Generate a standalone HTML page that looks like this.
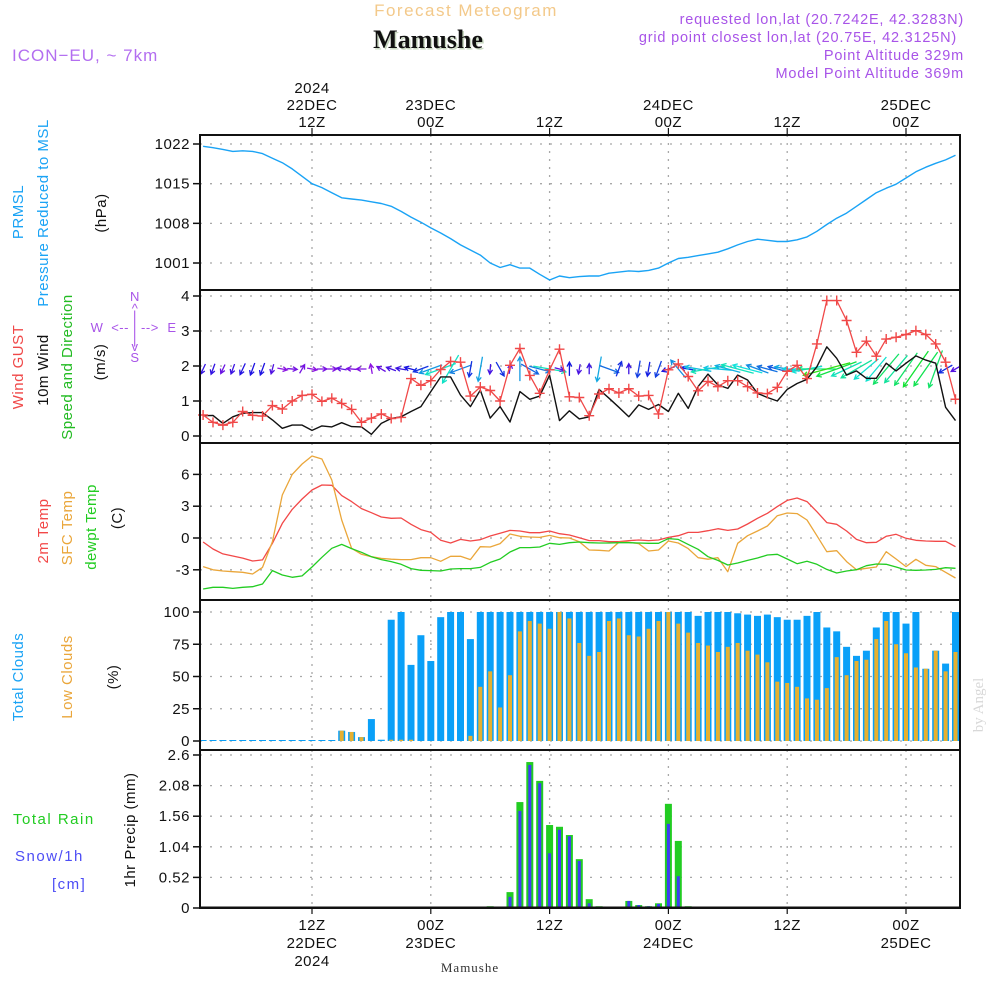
<!DOCTYPE html>
<html><head><meta charset="utf-8"><title>Mamushe Meteogram</title>
<style>
html,body{margin:0;padding:0;background:#fff;}
svg{display:block;font-family:"Liberation Sans",sans-serif;}
.tk{font-size:15px;fill:#111;letter-spacing:0.5px}
</style></head>
<body>
<svg id="chart" width="1000" height="1000" viewBox="0 0 1000 1000" xmlns="http://www.w3.org/2000/svg">
<rect width="1000" height="1000" fill="#fff"/>
<text x="466" y="16" text-anchor="middle" font-size="17" fill="#f3c98a" letter-spacing="1.5">Forecast Meteogram</text>
<text x="428" y="48" text-anchor="middle" font-size="26" font-weight="bold" font-family="Liberation Serif, serif" fill="#c8d8c0" dx="1.5" dy="1.5">Mamushe</text>
<text x="428" y="48" text-anchor="middle" font-size="26" font-weight="bold" font-family="Liberation Serif, serif" fill="#111">Mamushe</text>
<text x="12" y="61" font-size="17" fill="#b36ef0" letter-spacing="1">ICON−EU, ~ 7km</text>
<g font-size="14.5" fill="#a854e8" text-anchor="end" letter-spacing="0.8">
<text x="964" y="24">requested lon,lat (20.7242E, 42.3283N)</text>
<text x="957" y="42">grid point closest lon,lat (20.75E, 42.3125N)</text>
<text x="964" y="60">Point Altitude 329m</text>
<text x="964" y="78">Model Point Altitude 369m</text>
</g>
<g id="grids"></g>
<g id="marks"></g>
<g id="frames"></g>
<g id="labels"></g>
</svg>
<script>
// ---- data (hour 1..77 from 00Z 22DEC) ----
const hours = Array.from({length:77},(_,i)=>i+1);
const pressure = [1021.6,1021.35,1021.05,1020.7,1020.8,1020.7,1020.3,1019.5,1018.7,1017.6,1016.3,
1015.0,1014.3,1013.4,1012.5,1012.3,1012.1,1011.8,1011.5,1011.0,1010.1,
1009.1,1008.2,1007.2,1006.3,1005.3,1004.2,1003.3,1002.4,1001.0,1000.2,
1000.7,1000.1,1000.1,999.0,998.0,998.7,998.4,998.6,998.7,998.7,
999.2,999.4,999.6,999.5,999.7,1000.1,1001.0,1001.8,1002.0,1002.3,
1002.6,1002.9,1003.5,1004.2,1004.8,1005.2,1005.0,1004.8,1004.8,1005.1,
1005.6,1006.6,1007.8,1008.9,1009.8,1011.0,1012.2,1013.4,1014.2,1014.9,
1016.0,1017.1,1017.9,1018.6,1019.2,1020.0];
const gust = [0.6,0.39,0.31,0.39,0.7,0.59,0.57,0.87,0.77,1.0,
1.16,1.19,0.99,1.08,0.93,0.76,0.39,0.51,0.63,0.5,
0.53,1.64,1.45,1.58,1.9,2.13,2.11,1.14,1.4,1.3,
1.0,2.02,2.5,1.73,1.22,1.89,2.48,1.12,
1.1,0.58,1.2,1.35,1.23,1.35,1.14,1.16,0.63,1.89,
2.06,1.7,1.29,1.56,1.41,1.58,1.58,1.41,1.23,1.21,
1.39,1.85,2.02,1.64,2.63,3.87,3.87,3.3,2.39,2.71,
2.28,2.77,2.82,2.9,3.01,2.9,2.63,2.11,1.05];
const windSpeed = [0.58,0.59,0.36,0.55,0.65,0.67,0.67,0.46,0.22,0.31,
0.31,0.16,0.29,0.26,0.38,0.27,0.26,0.05,0.36,0.5,
0.55,0.7,0.84,1.27,1.69,1.69,1.17,0.84,1.31,0.51,
0.84,0.4,1.27,1.05,1.14,1.74,0.44,0.72,
0.49,0.55,1.33,1.08,0.82,0.55,0.89,0.76,0.9,0.7,
1.22,0.79,1.41,1.77,1.46,1.36,1.74,1.6,1.22,1.1,
1.0,1.33,1.5,1.62,1.98,2.55,2.22,1.74,1.86,1.65,
1.65,2.08,1.86,2.08,2.29,2.17,2.08,0.82,0.44];
const windDir = [-115,-110,-115,-110,-115,-110,-110,-105,-10,-5,60,-10,0,0,
170,175,180,100,150,160,170,165,200,200,200,-120,200,-100,-100,-95,-60,80,90,-30,-15,-10,-15,90,-100,
90,-100,-20,70,90,-100,-100,-110,200,130,170,170,190,175,165,165,165,160,165,165,170,180,190,180,195,
200,205,210,220,230,230,230,235,235,235,-110,-150,-150];
const temp2m = [-0.38,-1.04,-1.5,-1.7,-1.9,-2.17,-2.07,-0.5,1.38,2.7,
3.68,4.53,5.0,4.97,4.0,3.43,2.77,2.39,1.98,1.86,
1.89,1.29,0.79,0.53,-0.22,-0.47,-0.13,-0.28,-0.16,0.19,
0.44,0.72,0.66,0.5,0.5,0.66,0.41,0.28,
0.03,-0.25,-0.25,-0.35,-0.35,-0.25,-0.19,-0.25,-0.19,0.06,
0.22,0.53,0.53,0.69,0.88,0.72,0.85,1.32,1.86,2.33,
2.96,3.55,3.77,3.43,2.48,1.45,1.29,0.66,-0.13,-0.44,
-0.41,0.16,0.35,-0.03,-0.22,-0.28,-0.31,-0.31,-0.82];
const tempSfc = [-2.7,-3.0,-3.11,-3.18,-3.24,-3.4,-2.77,-0.35,4.06,6.0,
6.98,7.74,7.45,5.47,1.7,-0.97,-1.54,-1.76,-1.92,-2.0,
-2.04,-2.04,-1.86,-1.86,-2.2,-1.73,-1.73,-2.04,-0.82,-0.85,
-0.53,0.38,0.16,0.09,0.06,0.25,0.03,0,
-0.35,-1.13,-1.16,-1.23,-0.41,-0.41,-0.53,-1.23,-1.13,-0.28,
-0.47,-1.0,-1.86,-2.0,-1.86,-3.18,-0.5,0.22,0.66,1.13,
2.1,2.36,2.3,1.7,0.22,-1.29,-1.2,-2.23,-2.99,-2.86,
-2.74,-1.29,-1.98,-2.7,-2.01,-2.58,-2.7,-3.24,-3.77];
const dewpt = [-4.81,-4.65,-4.65,-4.75,-4.65,-4.59,-4.34,-3.08,-3.49,-3.71,
-3.58,-2.74,-1.82,-0.97,-0.6,-1.0,-1.35,-1.76,-2.04,-2.23,
-2.48,-2.89,-3.05,-3.08,-3.11,-2.92,-2.89,-2.89,-2.77,-2.3,
-1.98,-1.32,-0.91,-0.91,-0.85,-0.5,-0.6,-0.44,
-0.38,-0.44,-0.47,-0.47,-0.44,-0.44,-0.47,-0.5,-0.5,-0.06,
-0.13,-0.6,-1.07,-1.76,-2.11,-2.55,-2.36,-2.11,-1.89,-1.6,
-1.54,-1.98,-2.42,-2.2,-2.48,-2.96,-3.3,-3.11,-2.99,-2.61,
-2.45,-2.48,-2.74,-3.02,-3.05,-3.02,-2.96,-2.8,-2.86];
const totalClouds = [0,0,0,0,0,0,0,0,0,0,0,0,0,0,
8,7,3,17,1,94,100,59,82,62,96,100,100,79,
100,100,100,100,100,100,100,100,100,100,100,
100,100,100,100,100,100,100,100,100,100,100,
97,100,100,100,99,98,97,98,96,94,
94,97,100,88,85,73,66,70,88,100,
100,91,100,56,70,60,100];
const lowClouds = [0,0,0,0,0,0,0,0,0,0,0,0,0,0,
8,7,3,0,0,1,1,1,0,0,0,0,0,4,
42,54,26,51,85,93,91,87,100,95,76,
66,69,93,95,82,81,87,93,100,91,84,
76,74,69,73,76,70,67,61,46,45,
42,33,32,41,65,51,62,63,79,93,
75,68,57,56,70,54,69];
const precipHours = [30,32,33,34,35,36,37,38,39,40,41,43,44,45,46,47,48,49,50,51,52];
const totalRain = [0.03,0.27,1.8,2.48,2.16,1.41,1.38,1.24,0.83,0.15,0.03,0,0.12,0.05,0.03,0.08,1.77,1.14,0.03,0.02,0.02];
const snow = [0.01,0.19,1.65,2.43,2.12,0.93,1.33,1.22,0.8,0.08,0.02,0.005,0.12,0.05,0.03,0.07,1.43,0.54,0,0,0];
const pTicks = [1022,1015,1008,1001];
const wTicks = [0,1,2,3,4];
const tTicks = [6,3,0,-3];
const cTicks = [0,25,50,75,100];
const rTicks = [0,0.52,1.04,1.56,2.08,2.6];
const rTickLabels = ["0","0.52","1.04","1.56","2.08","2.6"];
const gridHours = [12,24,36,48,60,72];
const topLabels = [["2024","22DEC","12Z"],["","23DEC","00Z"],["","","12Z"],["","24DEC","00Z"],["","","12Z"],["","25DEC","00Z"]];
const bottomLabels = [["12Z","22DEC","2024"],["00Z","23DEC",""],["12Z","",""],["00Z","24DEC",""],["12Z","",""],["00Z","25DEC",""]];

// ---- axes ----
const X0=200, X1=960;
const xOf = h => 193.2 + 9.9*h;
const yP = v => 144 + (1022 - v)*5.667;
const yW = v => 436 - 35*v;
const yT = v => 538 - 10.6*v;
const yC = v => 741 - 1.29*v;
const yR = v => 908 - 58.85*v;
const panels = [[135,290],[290,443],[443,600],[600,750],[750,908]];

const NS="http://www.w3.org/2000/svg";
function mk(tag, attrs, parent){const e=document.createElementNS(NS,tag);for(const k in attrs)e.setAttribute(k,attrs[k]);parent.appendChild(e);return e;}
const G=document.getElementById('grids'), M=document.getElementById('marks'), F=document.getElementById('frames'), L=document.getElementById('labels');

const defs=mk('defs',{},document.getElementById('chart'));
panels.forEach((p,i)=>{const c=mk('clipPath',{id:'clip'+i},defs);mk('rect',{x:X0,y:p[0],width:X1-X0,height:p[1]-p[0]},c);});

panels.forEach((p,i)=>{
  gridHours.forEach(h=>{
    const l=mk('line',{x1:xOf(h),x2:xOf(h),y1:p[0],y2:p[1],stroke:'#a8a8a8','stroke-dasharray':'2,6','stroke-width':1.3},G);
    
    
  });
});
function hgrid(ticks, yf, labels, name){
  ticks.forEach((t,i)=>{
    const y=yf(t);
    const l=mk('line',{x1:X0,x2:X1,y1:y,y2:y,stroke:'#a8a8a8','stroke-dasharray':'2,8','stroke-width':1.3},G);
    
    
    const tk=mk('line',{x1:X0-7,x2:X0,y1:y,y2:y,stroke:'#111','stroke-width':1.5},F);
    
    
    const tx=mk('text',{x:X0-10,y:y+5,'text-anchor':'end',class:'tk'},L);
    tx.textContent = labels ? labels[i] : String(t);
    
    
  });
}
hgrid(pTicks,yP,null,'pressure');
hgrid(wTicks,yW,null,'wind');
hgrid(tTicks,yT,null,'temp');
hgrid(cTicks,yC,null,'cloud');
hgrid(rTicks,yR,rTickLabels,'precip');

panels.forEach((p,i)=>{
  const r=mk('rect',{x:X0,y:p[0],width:X1-X0,height:p[1]-p[0],fill:'none',stroke:'#111','stroke-width':2},F);
  
  
});
gridHours.forEach((h,i)=>{
  const x=xOf(h);
  mk('line',{x1:x,x2:x,y1:128,y2:135,stroke:'#111','stroke-width':1.2},F);
  mk('line',{x1:x,x2:x,y1:908,y2:914,stroke:'#111','stroke-width':1.2},F);
  topLabels[i].forEach((s,j)=>{ if(!s)return;
    const t=mk('text',{x:x,y:93+j*17,'text-anchor':'middle',class:'tk'},L); t.textContent=s;
    
    
  });
  bottomLabels[i].forEach((s,j)=>{ if(!s)return;
    const t=mk('text',{x:x,y:930+j*18,'text-anchor':'middle',class:'tk'},L); t.textContent=s;
    
    
  });
});

function line(vals, yf, color, clip, name, w){
  const pts=vals.map((v,i)=>xOf(hours[i]).toFixed(1)+','+yf(v).toFixed(1)).join(' ');
  const pl=mk('polyline',{points:pts,fill:'none',stroke:color,'stroke-width':w||1.4,'clip-path':'url(#clip'+clip+')','stroke-linejoin':'round'},M);
  
  
}
line(pressure,yP,'#1aa3f5',0,'pressure-line',1.4);
windDir.forEach((d,i)=>{
  const s=windSpeed[i]; const len=Math.max(10,19*s);
  const a=d*Math.PI/180; const cx=xOf(hours[i]), cy=369;
  const dx=Math.cos(a)*len/2, dy=-Math.sin(a)*len/2;
  const hue=Math.max(75,Math.min(275,290-70*s));
  const col='hsl('+hue+',85%,48%)';
  const x2=cx+dx,y2=cy+dy, x1=cx-dx,y1=cy-dy;
  const hl=5, b1=a+Math.PI-0.5, b2=a+Math.PI+0.5;
  const g=mk('path',{d:`M${x1},${y1}L${x2},${y2}M${x2+Math.cos(b1)*hl},${y2-Math.sin(b1)*hl}L${x2},${y2}L${x2+Math.cos(b2)*hl},${y2-Math.sin(b2)*hl}`,stroke:col,'stroke-width':1.3,fill:'none','clip-path':'url(#clip1)'},M);
  
  
});
line(windSpeed,yW,'#111',1,'wind-speed-line',1.4);
line(gust,yW,'#f04848',1,'wind-gust-line',1.3);
gust.forEach((v,i)=>{
  const x=xOf(hours[i]),y=yW(v);
  const p=mk('path',{d:`M${x-5},${y}H${x+5}M${x},${y-5}V${y+5}`,stroke:'#f04848','stroke-width':1.4},M);
  
  
});
line(temp2m,yT,'#f24848',2,'temp-2m-line',1.3);
line(tempSfc,yT,'#eaa63a',2,'temp-sfc-line',1.3);
line(dewpt,yT,'#22cc22',2,'dewpoint-line',1.3);
totalClouds.forEach((v,i)=>{
  const x=xOf(hours[i]); const y=yC(v); const h=Math.max(1,741-y);
  const r=mk('rect',{x:x-3.5,y:741-h,width:7,height:h,fill:'#0aa0f8'},M);
  
  
});
lowClouds.forEach((v,i)=>{
  const x=xOf(hours[i]); const y=yC(v); const h=Math.max(v>0?1:0,741-y);
  if(h<=0)return;
  const r=mk('rect',{x:x-2,y:741-h,width:4,height:h,fill:'#e6b030'},M);
  
  
});
totalRain.forEach((v,i)=>{
  const x=xOf(precipHours[i]); const h=908-yR(v); if(h<=0.2)return;
  const r=mk('rect',{x:x-3.5,y:908-h,width:7,height:h,fill:'#22cc22'},M);
  
  
});
snow.forEach((v,i)=>{
  const x=xOf(precipHours[i]); const h=908-yR(v); if(h<=0.2)return;
  const r=mk('rect',{x:x-1.5,y:908-h,width:3,height:h,fill:'#3d3df5'},M);
  
  
});
mk('line',{x1:X0,x2:X1,y1:907,y2:907,stroke:'#111','stroke-width':1},F);
</script>
<svg style="position:absolute;left:0;top:0" width="1000" height="1000" xmlns="http://www.w3.org/2000/svg">
<g font-size="15" font-family="Liberation Sans, sans-serif" letter-spacing="0.5">
<text transform="translate(23,212) rotate(-90)" text-anchor="middle" fill="#1aa3f5">PRMSL</text>
<text transform="translate(48,213) rotate(-90)" text-anchor="middle" fill="#1aa3f5">Pressure Reduced to MSL</text>
<text transform="translate(106,213) rotate(-90)" text-anchor="middle" fill="#111">(hPa)</text>
<text transform="translate(23,367) rotate(-90)" text-anchor="middle" fill="#f04848">Wind GUST</text>
<text transform="translate(48,370) rotate(-90)" text-anchor="middle" fill="#111">10m Wind</text>
<text transform="translate(72,367) rotate(-90)" text-anchor="middle" fill="#22bb22">Speed and Direction</text>
<text transform="translate(105,362) rotate(-90)" text-anchor="middle" fill="#111">(m/s)</text>
<g font-size="13" fill="#a854e8" text-anchor="middle">
<text x="135" y="301">N</text><text x="135" y="313">^</text><text x="135" y="320">|</text>
<text x="97" y="332">W</text><text x="135" y="332">&lt;-- | --&gt;</text><text x="172" y="332">E</text>
<text x="135" y="344">|</text><text x="135" y="351">v</text><text x="135" y="362">S</text>
</g>
<text transform="translate(48,531) rotate(-90)" text-anchor="middle" fill="#f24848">2m Temp</text>
<text transform="translate(72,528) rotate(-90)" text-anchor="middle" fill="#eaa63a">SFC Temp</text>
<text transform="translate(96,527) rotate(-90)" text-anchor="middle" fill="#22cc22">dewpt Temp</text>
<text transform="translate(122,518) rotate(-90)" text-anchor="middle" fill="#111">(C)</text>
<text transform="translate(23,677) rotate(-90)" text-anchor="middle" fill="#1aa3f5">Total Clouds</text>
<text transform="translate(72,677) rotate(-90)" text-anchor="middle" fill="#eaa63a">Low Clouds</text>
<text transform="translate(118,677) rotate(-90)" text-anchor="middle" fill="#111">(%)</text>
<text x="13" y="824" fill="#22cc22" letter-spacing="1.5">Total  Rain</text>
<text x="15" y="861" fill="#4d4df5" letter-spacing="1.5">Snow/1h</text>
<text x="52" y="889" fill="#4d4df5" letter-spacing="1.5">[cm]</text>
<text transform="translate(135,830) rotate(-90)" text-anchor="middle" fill="#111">1hr Precip (mm)</text>
</g>
<text x="470" y="972" text-anchor="middle" font-size="13" font-family="Liberation Serif, serif" fill="#333" letter-spacing="1">Mamushe</text>
<text transform="translate(983,705) rotate(-90)" text-anchor="middle" font-size="15" font-family="Liberation Serif, serif" fill="#d8d8d8">by Angel</text>
</svg>
</body></html>
